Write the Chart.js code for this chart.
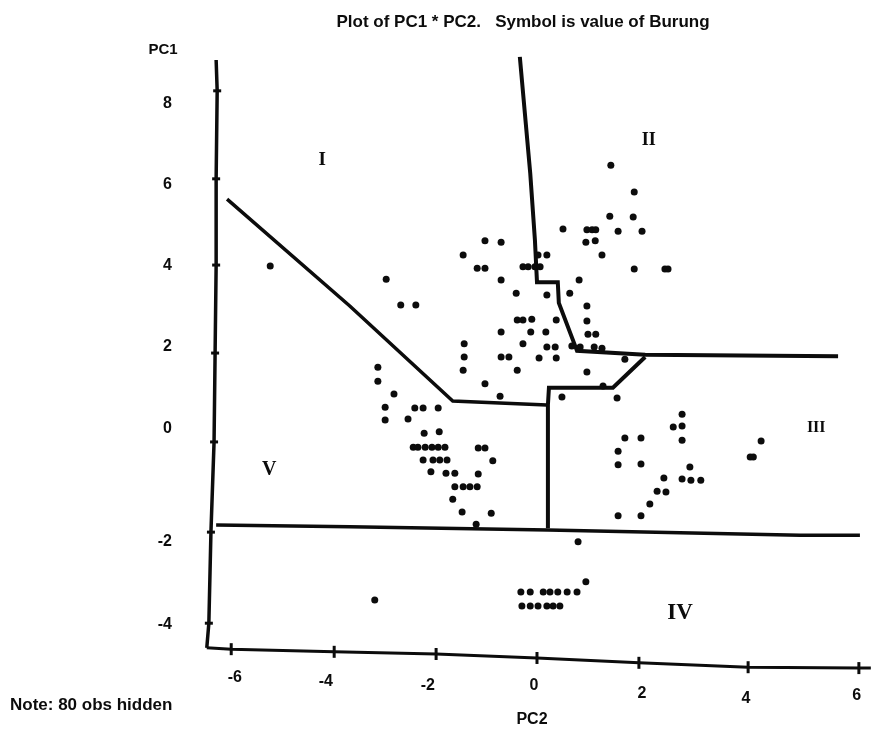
<!DOCTYPE html>
<html>
<head>
<meta charset="utf-8">
<title>Plot of PC1 * PC2</title>
<script src="https://cdn.jsdelivr.net/npm/chart.js@4"></script>
<style>
  html, body { margin: 0; padding: 0; background: #fff; }
  canvas { display: block; }
</style>
</head>
<body>
<canvas id="plot" width="871" height="731"></canvas>
<script>
const obsPC2 = [
  1.42, 1.87, 1.40, 1.85, 0.50, 0.96, 1.06, 1.13, 1.56, 2.02, 0.94, 1.12, 1.25, 1.87, 2.46, 2.52,
  -1.00, -0.69, -1.42, -1.15, -1.00, 0.19, 0.02, -0.27, -0.17, -0.04, 0.06, -2.90, -0.69, 0.81,
  -0.40, 0.19, 0.63, -2.62, -2.33, 0.96, -0.38, -0.27, -0.10, 0.37, 0.96, -0.69, -0.12, 0.17, 0.98, 1.13,
  -1.40, -0.27, 0.19, 0.35, 0.67, 0.83, 1.10, 1.25, -1.40, -0.69, -0.54, 0.04, 0.37, 1.69,
  -1.42, -0.38, 0.96, -3.06, -3.06, -1.00, 1.27, -2.75, -0.71, 0.48, 1.54,
  -2.92, -2.35, -2.19, -1.90, -2.92, -2.48, -2.17, -1.88,
  -2.38, -2.29, -2.15, -2.02, -1.90, -1.77, -1.13, -1.00, -0.85,
  -2.19, -2.00, -1.87, -1.73, -2.04, -1.75, -1.58, -1.13,
  -1.58, -1.42, -1.29, -1.15, -1.62, -1.44, -0.88, -1.17,
  0.79, 0.94, -0.31, -0.13, 0.12, 0.25, 0.40, 0.58, 0.77, -0.29, -0.13, 0.02, 0.19, 0.31, 0.44, -3.12,
  2.79, 2.62, 2.79, 1.69, 2.00, 2.79, 1.56, 4.31, 4.10, 4.16, 1.56, 2.00, 2.94, 2.44, 2.79, 2.96, 3.15,
  2.31, 2.48, 2.17, 1.56, 2.00, -5.13, 0.00, 6.19
];
const obsPC1 = [
  6.36, 5.75, 5.20, 5.18, 4.91, 4.89, 4.89, 4.89, 4.86, 4.86, 4.61, 4.64, 4.32, 4.00, 4.00, 4.00,
  4.64, 4.61, 4.32, 4.02, 4.02, 4.32, 4.32, 4.05, 4.05, 4.05, 4.05, 3.77, 3.75, 3.75,
  3.45, 3.41, 3.45, 3.18, 3.18, 3.16, 2.84, 2.84, 2.86, 2.84, 2.82, 2.57, 2.57, 2.57, 2.52, 2.52,
  2.30, 2.30, 2.23, 2.23, 2.25, 2.23, 2.23, 2.20, 2.00, 2.00, 2.00, 1.98, 1.98, 1.95,
  1.70, 1.70, 1.66, 1.77, 1.45, 1.39, 1.34, 1.16, 1.11, 1.09, 1.07,
  0.86, 0.84, 0.84, 0.84, 0.57, 0.59, 0.27, 0.30,
  -0.05, -0.05, -0.05, -0.05, -0.05, -0.05, -0.07, -0.07, -0.36,
  -0.34, -0.34, -0.34, -0.34, -0.61, -0.64, -0.64, -0.66,
  -0.95, -0.95, -0.95, -0.95, -1.23, -1.52, -1.55, -1.80,
  -2.20, -3.11, -3.34, -3.34, -3.34, -3.34, -3.34, -3.34, -3.34, -3.66, -3.66, -3.66, -3.66, -3.66, -3.66, -3.52,
  0.70, 0.41, 0.43, 0.16, 0.16, 0.11, -0.14, 0.09, -0.27, -0.27, -0.45, -0.43, -0.50, -0.75, -0.77, -0.80, -0.80,
  -1.05, -1.07, -1.34, -1.61, -1.61, 4.07, -5.09, -5.30
];

// hand drawn region boundaries
const upperLinePC2 = [-0.33, -0.13, -0.04, 0.00, 0.40, 0.42, 0.77, 2.08, 5.79];
const upperLinePC1 = [8.82, 6.18, 4.66, 3.70, 3.70, 3.23, 2.14, 2.05, 2.02];
const leftLinePC2 = [-5.96, -3.60, -1.62, 0.19];
const leftLinePC1 = [5.59, 3.16, 1.00, 0.91];
const middleLinePC2 = [0.21, 0.21, 0.23, 1.46, 2.08];
const middleLinePC1 = [-1.89, 0.91, 1.30, 1.30, 2.00];
const lowerLinePC2 = [-6.17, -3.60, 0.21, 5.06, 6.21];
const lowerLinePC1 = [-1.82, -1.86, -1.93, -2.05, -2.05];

// the axes are skewed on the scan, so they are traced too
const axisYPC2 = [-6.17, -6.15, -6.17, -6.17, -6.19, -6.21, -6.27, -6.31, -6.35];
const axisYPC1 = [8.75, 8.05, 6.05, 4.09, 2.09, 0.07, -1.98, -4.05, -4.61];
const axisXPC2 = [-6.35, -5.88, -3.90, -1.94, 0.00, 1.96, 4.06, 6.19, 6.42];
const axisXPC1 = [-4.61, -4.64, -4.70, -4.75, -4.84, -4.95, -5.05, -5.07, -5.07];

// tick labels and where they sit
const xTickLabels = ['-6', '-4', '-2', '0', '2', '4', '6'];
const xTickAt = [-5.81, -4.06, -2.10, -0.06, 2.02, 4.02, 6.15];
const xTickDrop = [28, 36, 44, 44, 60, 70, 64];
const yTickLabels = ['8', '6', '4', '2', '0', '-2', '-4'];
const yTickAt = [7.75, 5.91, 4.07, 2.23, 0.37, -2.20, -4.09];

// region numerals
const regionNames = ['I', 'II', 'III', 'IV', 'V'];
const regionPC2 = [-4.13, 2.15, 5.37, 2.75, -5.15];
const regionPC1 = [6.48, 6.93, 0.39, -3.82, -0.57];
const regionSizes = [19, 18, 16, 23, 20];

const FONT = '"Liberation Sans", Arial, sans-serif';
const INK = '#0c0c0c';

const zip = (xs, ys) => xs.map((x, i) => ({ x: x, y: ys[i] }));

const lineSet = (xs, ys, width) => ({
  data: zip(xs, ys),
  showLine: true,
  borderColor: INK,
  borderWidth: width,
  pointRadius: 0,
  clip: false
});

const tickSet = (xs, ys, rotation, size) => ({
  data: zip(xs, ys),
  pointStyle: 'line',
  pointRotation: rotation,
  pointRadius: size,
  borderColor: INK,
  borderWidth: 3,
  clip: false
});

// free standing text: numerals, the two axis names and the note
const textPlugin = {
  id: 'plotText',
  afterDraw(chart) {
    const ctx = chart.ctx;
    ctx.save();
    ctx.fillStyle = INK;
    ctx.textAlign = 'center';
    ctx.textBaseline = 'middle';
    regionNames.forEach((name, i) => {
      ctx.font = 'bold ' + regionSizes[i] + 'px "Liberation Serif", serif';
      ctx.fillText(name, chart.scales.x.getPixelForValue(regionPC2[i]), chart.scales.y.getPixelForValue(regionPC1[i]));
    });
    ctx.font = 'bold 15px ' + FONT;
    ctx.fillText('PC1', 163, 50);
    ctx.font = 'bold 16px ' + FONT;
    ctx.fillText('PC2', 532, 720);
    ctx.textAlign = 'left';
    ctx.font = 'bold 17px ' + FONT;
    ctx.fillText('Note: 80 obs hidden', 10, 705);
    ctx.restore();
  }
};

new Chart(document.getElementById('plot'), {
  type: 'scatter',
  data: {
    datasets: [
      { data: zip(obsPC2, obsPC1), backgroundColor: INK, borderWidth: 0, pointRadius: 3.5, clip: false },
      lineSet(upperLinePC2, upperLinePC1, 4),
      lineSet(leftLinePC2, leftLinePC1, 3.5),
      lineSet(middleLinePC2, middleLinePC1, 4),
      lineSet(lowerLinePC2, lowerLinePC1, 3.5),
      lineSet(axisYPC2, axisYPC1, 3.5),
      lineSet(axisXPC2, axisXPC1, 3),
      tickSet(axisYPC2.slice(1, 8), axisYPC1.slice(1, 8), 0, 4),
      tickSet(axisXPC2.slice(1, 8), axisXPC1.slice(1, 8), 90, 6)
    ]
  },
  options: {
    responsive: false,
    animation: false,
    layout: { autoPadding: false, padding: { right: 5 } },
    plugins: {
      legend: { display: false },
      tooltip: { enabled: false },
      title: {
        display: true,
        fullSize: false,
        text: 'Plot of PC1 * PC2.   Symbol is value of Burung',
        color: INK,
        font: { family: FONT, size: 17, weight: 'bold', lineHeight: 1.2 },
        padding: { top: 12, bottom: 7.6 }
      }
    },
    scales: {
      x: {
        type: 'linear',
        min: -6.865,
        max: 6.327,
        grid: { display: false, drawTicks: false },
        border: { display: false },
        afterBuildTicks: (scale) => { scale.ticks = xTickAt.map(v => ({ value: v })); },
        afterFit: (scale) => { scale.height = 67; },
        ticks: {
          autoSkip: false,
          maxRotation: 0,
          padding: 0,
          color: INK,
          font: (c) => ({ family: FONT, size: 16, weight: 'bold', lineHeight: xTickDrop[c.index] + 'px' }),
          callback: (v, i) => xTickLabels[i]
        }
      },
      y: {
        type: 'linear',
        min: -4.977,
        max: 9.205,
        grid: { display: false, drawTicks: false },
        border: { display: false },
        afterBuildTicks: (scale) => { scale.ticks = yTickAt.map(v => ({ value: v })); },
        afterFit: (scale) => { scale.width = 180; },
        ticks: {
          autoSkip: false,
          padding: 8,
          color: INK,
          font: { family: FONT, size: 16, weight: 'bold' },
          callback: (v, i) => yTickLabels[i]
        }
      }
    }
  },
  plugins: [textPlugin]
});
</script>
</body>
</html>
